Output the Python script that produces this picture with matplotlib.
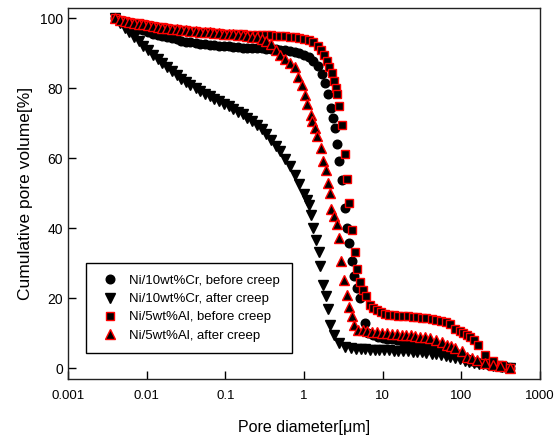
import matplotlib
matplotlib.use("Agg")
import matplotlib.pyplot as plt
from matplotlib.ticker import FixedLocator, NullLocator, FixedFormatter

plt.rcParams['font.family'] = ['Liberation Sans', 'DejaVu Sans']

# ---------------- data ----------------
labels = ["Ni/10wt%Cr, before creep", "Ni/10wt%Cr, after creep",
          "Ni/5wt%Al, before creep", "Ni/5wt%Al, after creep"]

cr_before_x = [0.004, 0.0046, 0.0053, 0.006, 0.0069, 0.0079, 0.0091, 0.0105, 0.012, 0.0138,
               0.0158, 0.0182, 0.021, 0.024, 0.0275, 0.0316, 0.036, 0.042, 0.048, 0.055,
               0.063, 0.072, 0.083, 0.095, 0.11, 0.126, 0.145, 0.166, 0.19, 0.22,
               0.25, 0.29, 0.33, 0.38, 0.44, 0.50, 0.58, 0.66, 0.76, 0.87,
               1.0, 1.15, 1.32, 1.5, 1.7, 1.85, 2.0, 2.2, 2.36, 2.48,
               2.65, 2.81, 3.04, 3.32, 3.49, 3.77, 4.04, 4.36, 4.68, 5.15,
               5.96, 6.6, 7.5, 8.6, 10, 11.5, 13.2, 15, 17.4, 20,
               23, 26, 30, 35, 40, 46, 52, 60, 69, 79,
               91, 105, 120, 138, 158, 182, 209, 240, 275, 316, 363, 415]
cr_before_y = [100, 99.3, 98.7, 98.1, 97.6, 97.1, 96.6, 96.1, 95.7, 95.3,
               94.9, 94.6, 94.3, 94.0, 93.7, 93.4, 93.2, 93.0, 92.8, 92.6,
               92.5, 92.3, 92.2, 92.1, 92.0, 91.9, 91.8, 91.7, 91.6, 91.6,
               91.5, 91.5, 91.4, 91.3, 91.2, 91.1, 91.0, 90.8, 90.5, 90.1,
               89.6, 88.9, 87.8, 86.3, 84.0, 81.5, 78.4, 74.4, 71.7, 68.7,
               64.1, 59.3, 53.9, 45.8, 40.1, 35.8, 30.6, 26.3, 23.0, 20.1,
               13.1, 10.1, 9.6, 9.1, 8.8, 8.5, 8.3, 8.1, 7.9, 7.7,
               7.5, 7.3, 7.1, 6.9, 6.7, 6.4, 6.1, 5.8, 5.4, 4.9,
               4.2, 3.3, 2.7, 2.2, 1.8, 1.5, 1.2, 0.9, 0.7, 0.5, 0.3, 0.0]

cr_after_x = [0.004, 0.0046, 0.0053, 0.006, 0.0069, 0.0079, 0.0091, 0.0105, 0.012, 0.0138,
              0.0158, 0.0182, 0.021, 0.024, 0.0275, 0.0316, 0.036, 0.042, 0.048, 0.055,
              0.063, 0.072, 0.083, 0.095, 0.11, 0.126, 0.145, 0.166, 0.19, 0.22,
              0.25, 0.29, 0.33, 0.38, 0.44, 0.50, 0.58, 0.66, 0.76, 0.87,
              1.0, 1.08, 1.16, 1.22, 1.31, 1.44, 1.53, 1.62, 1.75, 1.92,
              2.03, 2.16, 2.4, 2.8, 3.3, 4.0, 4.6, 5.3, 6.0, 6.9,
              7.9, 9.1, 10.5, 12, 13.8, 15.8, 18.2, 21, 24, 27.5,
              31.6, 36, 42, 48, 55, 63, 72, 83, 95, 110,
              126, 145, 166, 190, 220, 250, 290, 330, 380, 415]
cr_after_y = [100, 98.7, 97.3, 96.1, 94.8, 93.5, 92.2, 90.9, 89.7, 88.4,
              87.2, 86.0, 84.9, 83.8, 82.8, 81.8, 80.9, 80.0, 79.2, 78.5,
              77.8, 77.1, 76.4, 75.7, 75.0, 74.2, 73.4, 72.6, 71.7, 70.7,
              69.6, 68.3, 66.9, 65.4, 63.7, 62.0, 59.9, 57.9, 55.4, 52.6,
              49.8, 48.0, 46.6, 43.9, 40.1, 36.8, 33.4, 29.3, 23.9, 20.6,
              17.0, 12.5, 9.6, 7.3, 6.2, 5.8, 5.6, 5.5, 5.5, 5.4,
              5.4, 5.3, 5.2, 5.2, 5.1, 5.1, 5.0, 4.9, 4.8, 4.7,
              4.6, 4.4, 4.2, 4.0, 3.8, 3.6, 3.3, 2.9, 2.6, 2.2,
              1.9, 1.6, 1.4, 1.2, 1.0, 0.8, 0.6, 0.4, 0.2, 0.0]

al_before_x = [0.004, 0.0046, 0.0053, 0.006, 0.0069, 0.0079, 0.0091, 0.0105, 0.012, 0.0138,
               0.0158, 0.0182, 0.021, 0.024, 0.0275, 0.0316, 0.036, 0.042, 0.048, 0.055,
               0.063, 0.072, 0.083, 0.095, 0.11, 0.126, 0.145, 0.166, 0.19, 0.22,
               0.25, 0.29, 0.33, 0.38, 0.44, 0.50, 0.58, 0.66, 0.76, 0.87,
               1.0, 1.15, 1.32, 1.5, 1.65, 1.8, 1.95, 2.1, 2.25, 2.4,
               2.52, 2.62, 2.81, 3.0, 3.32, 3.49, 3.77, 4.04, 4.46, 4.77,
               5.2, 5.6, 6.1, 7.0, 7.5, 8.4, 9.4, 10.6, 12, 13.8,
               15.8, 18.2, 21, 24, 27.5, 31.6, 36, 42, 48, 55,
               63, 72, 83, 95, 106, 118, 129, 145, 165, 200, 255, 325, 415]
al_before_y = [100, 99.7, 99.4, 99.1, 98.8, 98.6, 98.3, 98.1, 97.9, 97.7,
               97.5, 97.3, 97.1, 96.9, 96.8, 96.6, 96.5, 96.4, 96.2, 96.1,
               96.0, 95.9, 95.8, 95.7, 95.6, 95.6, 95.5, 95.5, 95.4, 95.4,
               95.3, 95.3, 95.2, 95.2, 95.1, 95.0, 94.9, 94.8, 94.6, 94.4,
               94.2, 93.8, 93.2, 92.2, 91.0, 89.6, 87.8, 86.0, 84.3, 82.2,
               80.2, 78.5, 74.9, 69.6, 61.3, 54.2, 47.4, 39.6, 33.4, 28.4,
               24.6, 22.5, 20.6, 18.2, 17.3, 16.6, 16.0, 15.7, 15.4, 15.2,
               15.1, 15.0, 14.9, 14.8, 14.7, 14.5, 14.4, 14.2, 13.9, 13.6,
               13.2, 12.7, 11.4, 10.8, 10.1, 9.5, 8.9, 8.0, 6.8, 3.9, 2.2, 1.1, 0.0]

al_after_x = [0.004, 0.0046, 0.0053, 0.006, 0.0069, 0.0079, 0.0091, 0.0105, 0.012, 0.0138,
              0.0158, 0.0182, 0.021, 0.024, 0.0275, 0.0316, 0.036, 0.042, 0.048, 0.055,
              0.063, 0.072, 0.083, 0.095, 0.11, 0.126, 0.145, 0.166, 0.19, 0.22,
              0.25, 0.29, 0.33, 0.38, 0.44, 0.50, 0.58, 0.66, 0.76, 0.85,
              0.93, 1.03, 1.1, 1.21, 1.28, 1.4, 1.48, 1.64, 1.75, 1.89,
              1.99, 2.16, 2.21, 2.4, 2.6, 2.81, 2.95, 3.25, 3.53, 3.77,
              4.04, 4.36, 4.9, 5.6, 6.4, 7.4, 8.5, 9.8, 11.2, 13,
              15, 17.4, 20, 23, 26, 30, 35, 40, 48, 56,
              65, 74, 83, 101, 117, 135, 157, 200, 255, 310, 415]
al_after_y = [100, 99.7, 99.4, 99.1, 98.8, 98.5, 98.3, 98.0, 97.8, 97.6,
              97.4, 97.2, 97.0, 96.9, 96.7, 96.6, 96.5, 96.3, 96.2, 96.1,
              96.0, 95.9, 95.8, 95.7, 95.6, 95.5, 95.3, 95.2, 95.0, 94.8,
              94.6, 94.2, 93.6, 92.6, 91.0, 89.7, 88.3, 87.2, 86.0, 83.4,
              81.1, 78.2, 75.6, 72.5, 70.6, 68.7, 66.3, 63.0, 59.3, 56.8,
              53.0, 50.1, 45.5, 43.6, 41.3, 37.3, 30.6, 25.3, 21.1, 17.5,
              14.9, 12.5, 11.1, 10.9, 10.7, 10.5, 10.4, 10.2, 10.1, 9.9,
              9.8, 9.7, 9.6, 9.5, 9.3, 9.1, 8.9, 8.6, 8.2, 7.5,
              6.8, 6.3, 5.8, 4.9, 3.4, 3.0, 2.5, 1.5, 1.1, 0.6, 0.0]

xtick_vals = [0.001, 0.01, 0.1, 1, 10, 100, 1000]
xtick_labels = ["0.001", "0.01", "0.1", "1", "10", "100", "1000"]
ytick_vals = [0, 20, 40, 60, 80, 100]

# ---------------- plot ----------------
fig = plt.figure(figsize=(5.55, 4.44), dpi=100)
ax = fig.add_axes([0.1225, 0.1464, 0.8505, 0.8356])

ms = 6.2
ax.plot(cr_before_x, cr_before_y, linestyle='none', marker='o', ms=ms,
        mfc='black', mec='black', label=labels[0])
ax.plot(cr_after_x, cr_after_y, linestyle='none', marker='v', ms=ms + 0.6,
        mfc='black', mec='black', label=labels[1])
ax.plot(al_before_x, al_before_y, linestyle='none', marker='s', ms=ms - 0.4,
        mfc='black', mec='red', mew=1.0, label=labels[2])
ax.plot(al_after_x, al_after_y, linestyle='none', marker='^', ms=ms + 0.6,
        mfc='black', mec='red', mew=1.0, label=labels[3])

ax.set_xscale('log')
ax.set_xlim(0.001, 1000)
ax.set_ylim(-3, 103)
ax.xaxis.set_major_locator(FixedLocator(xtick_vals))
ax.xaxis.set_major_formatter(FixedFormatter(xtick_labels))
ax.xaxis.set_minor_locator(NullLocator())
ax.set_yticks(ytick_vals)

ax.tick_params(axis='both', direction='in', length=6, width=1,
               colors='black', top=False, right=False)
ax.tick_params(axis='x', pad=8, labelsize=9.5)
ax.tick_params(axis='y', pad=3.5, labelsize=10)
for s in ax.spines.values():
    s.set_linewidth(1.0)
    s.set_color('#222222')

ax.set_xlabel("Pore diameter[\u03bcm]", fontsize=11.5, labelpad=13)
ax.set_ylabel("Cumulative pore volume[%]", fontsize=12.5, labelpad=5)

leg = ax.legend(loc='lower left', bbox_to_anchor=(0.038, 0.069), fontsize=9.5,
                frameon=True, fancybox=False, edgecolor='black', framealpha=1,
                borderpad=0.9, handlelength=1.9, handletextpad=0.5,
                labelspacing=0.45, borderaxespad=0)
leg.get_frame().set_linewidth(1.0)

fig.savefig("out.png", dpi=100)
